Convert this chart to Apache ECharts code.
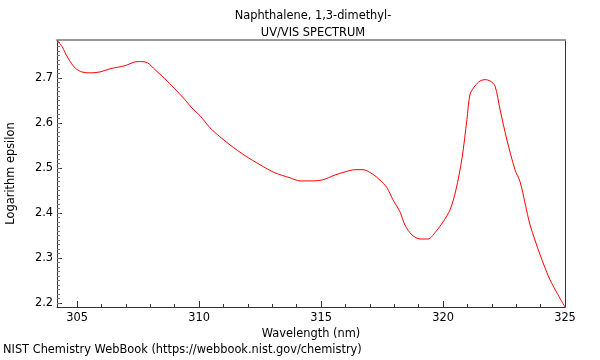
<!DOCTYPE html>
<html><head><meta charset="utf-8">
<script src="https://cdn.jsdelivr.net/npm/echarts@6/dist/echarts.min.js"></script>
<style>html,body{margin:0;padding:0;background:#fff}#c{width:600px;height:360px}</style>
</head><body><div id="c"></div>
<script>
const wavelength = [304.18,304.39,304.63,304.92,305.2,305.53,305.94,306.35,306.97,307.46,307.66,307.9,308.2,308.6,309.0,309.43,309.71,310.04,310.45,310.86,311.27,311.89,312.5,313.11,313.73,314.14,314.55,315.04,315.57,315.98,316.39,316.72,317.09,317.42,317.7,317.95,318.24,318.44,318.73,319.06,319.39,319.67,320.0,320.29,320.53,320.78,320.98,321.11,321.31,321.52,321.72,321.93,322.13,322.34,322.62,322.95,323.16,323.37,323.57,323.98,324.39,325.0];
const logEps = [2.784,2.769,2.744,2.722,2.713,2.711,2.713,2.72,2.727,2.736,2.736,2.733,2.718,2.698,2.676,2.651,2.633,2.616,2.589,2.569,2.551,2.527,2.507,2.489,2.478,2.471,2.471,2.473,2.484,2.491,2.496,2.496,2.487,2.473,2.456,2.429,2.402,2.373,2.351,2.342,2.342,2.356,2.38,2.407,2.451,2.522,2.607,2.664,2.682,2.693,2.696,2.693,2.682,2.629,2.562,2.496,2.469,2.42,2.373,2.307,2.251,2.191];
const xMajor = [305,310,315,320,325];
const yMajor = [2.2,2.3,2.4,2.5,2.6,2.7];
const xMinor = [305,306,307,308,309,310,311,312,313,314,315,316,317,318,319,320,321,322,323,324,325];
const yMinor = [];
for (let i = 219; i <= 278; i++) yMinor.push(+(i/100).toFixed(2));
const X_MIN = 304.18, X_MAX = 325, Y_MIN = 2.191, Y_MAX = 2.784;

const FONT = 'DejaVu Sans';
const FS = 11.4;
const chart = echarts.init(document.getElementById('c'), null, {renderer:'canvas'});
const axisCol = '#333';
chart.setOption({
  animation:false,
  textStyle:{fontFamily:FONT},
  title:[
    {text:'Naphthalene, 1,3-dimethyl-', left:308, top:6, textAlign:'center', textStyle:{fontFamily:FONT,fontSize:FS,fontWeight:'normal',color:'#000'}},
    {text:'UV/VIS SPECTRUM', left:308, top:23, textAlign:'center', textStyle:{fontFamily:FONT,fontSize:FS,fontWeight:'normal',color:'#000'}},
    {text:'NIST Chemistry WebBook (https://webbook.nist.gov/chemistry)', left:3, top:345, padding:0, textStyle:{fontFamily:FONT,fontSize:FS,fontWeight:'normal',color:'#000'}}
  ],
  grid:{left:57,right:35,top:40,bottom:53,outerBoundsMode:'none',containLabel:false},
  xAxis:[
    {type:'value',min:X_MIN,max:X_MAX,position:'bottom',
     name:'Wavelength (nm)',nameLocation:'middle',nameGap:19,
     nameTextStyle:{fontFamily:FONT,fontSize:FS,color:'#000'},
     axisLine:{show:true,lineStyle:{color:axisCol,width:1}},
     axisTick:{show:true,inside:true,length:6,customValues:xMajor,lineStyle:{color:axisCol}},
     axisLabel:{show:true,customValues:xMajor,margin:6,fontFamily:FONT,fontSize:FS,color:'#000'},
     splitLine:{show:false}},
    {type:'value',min:X_MIN,max:X_MAX,position:'bottom',
     axisLine:{show:false},
     axisTick:{show:true,inside:true,length:3,customValues:xMinor,lineStyle:{color:axisCol}},
     axisLabel:{show:false},splitLine:{show:false}},
    {type:'value',min:X_MIN,max:X_MAX,position:'top',
     axisLine:{show:true,lineStyle:{color:'#999',width:2}},
     axisTick:{show:false},axisLabel:{show:false},splitLine:{show:false}}
  ],
  yAxis:[
    {type:'value',min:Y_MIN,max:Y_MAX,position:'left',
     name:'Logarithm epsilon',nameLocation:'middle',nameGap:40,
     nameTextStyle:{fontFamily:FONT,fontSize:FS,color:'#000'},
     axisLine:{show:true,lineStyle:{color:axisCol,width:1}},
     axisTick:{show:true,inside:true,length:5,customValues:yMajor,lineStyle:{color:axisCol}},
     axisLabel:{show:true,customValues:yMajor,margin:4,fontFamily:FONT,fontSize:FS,color:'#000',formatter:v=>v.toFixed(1)},
     splitLine:{show:false}},
    {type:'value',min:Y_MIN,max:Y_MAX,position:'left',
     axisLine:{show:false},
     axisTick:{show:true,inside:true,length:3,customValues:yMinor,lineStyle:{color:'#777'}},
     axisLabel:{show:false},splitLine:{show:false}},
    {type:'value',min:Y_MIN,max:Y_MAX,position:'right',
     axisLine:{show:true,lineStyle:{color:axisCol,width:1}},
     axisTick:{show:false},axisLabel:{show:false},splitLine:{show:false}}
  ],
  series:[{
    type:'line',xAxisIndex:0,yAxisIndex:0,
    data:wavelength.map((x,i)=>[x,logEps[i]]),
    showSymbol:false,smooth:0.3,
    lineStyle:{color:'#ff0000',width:1},
    clip:true
  }]
});
</script></body></html>
